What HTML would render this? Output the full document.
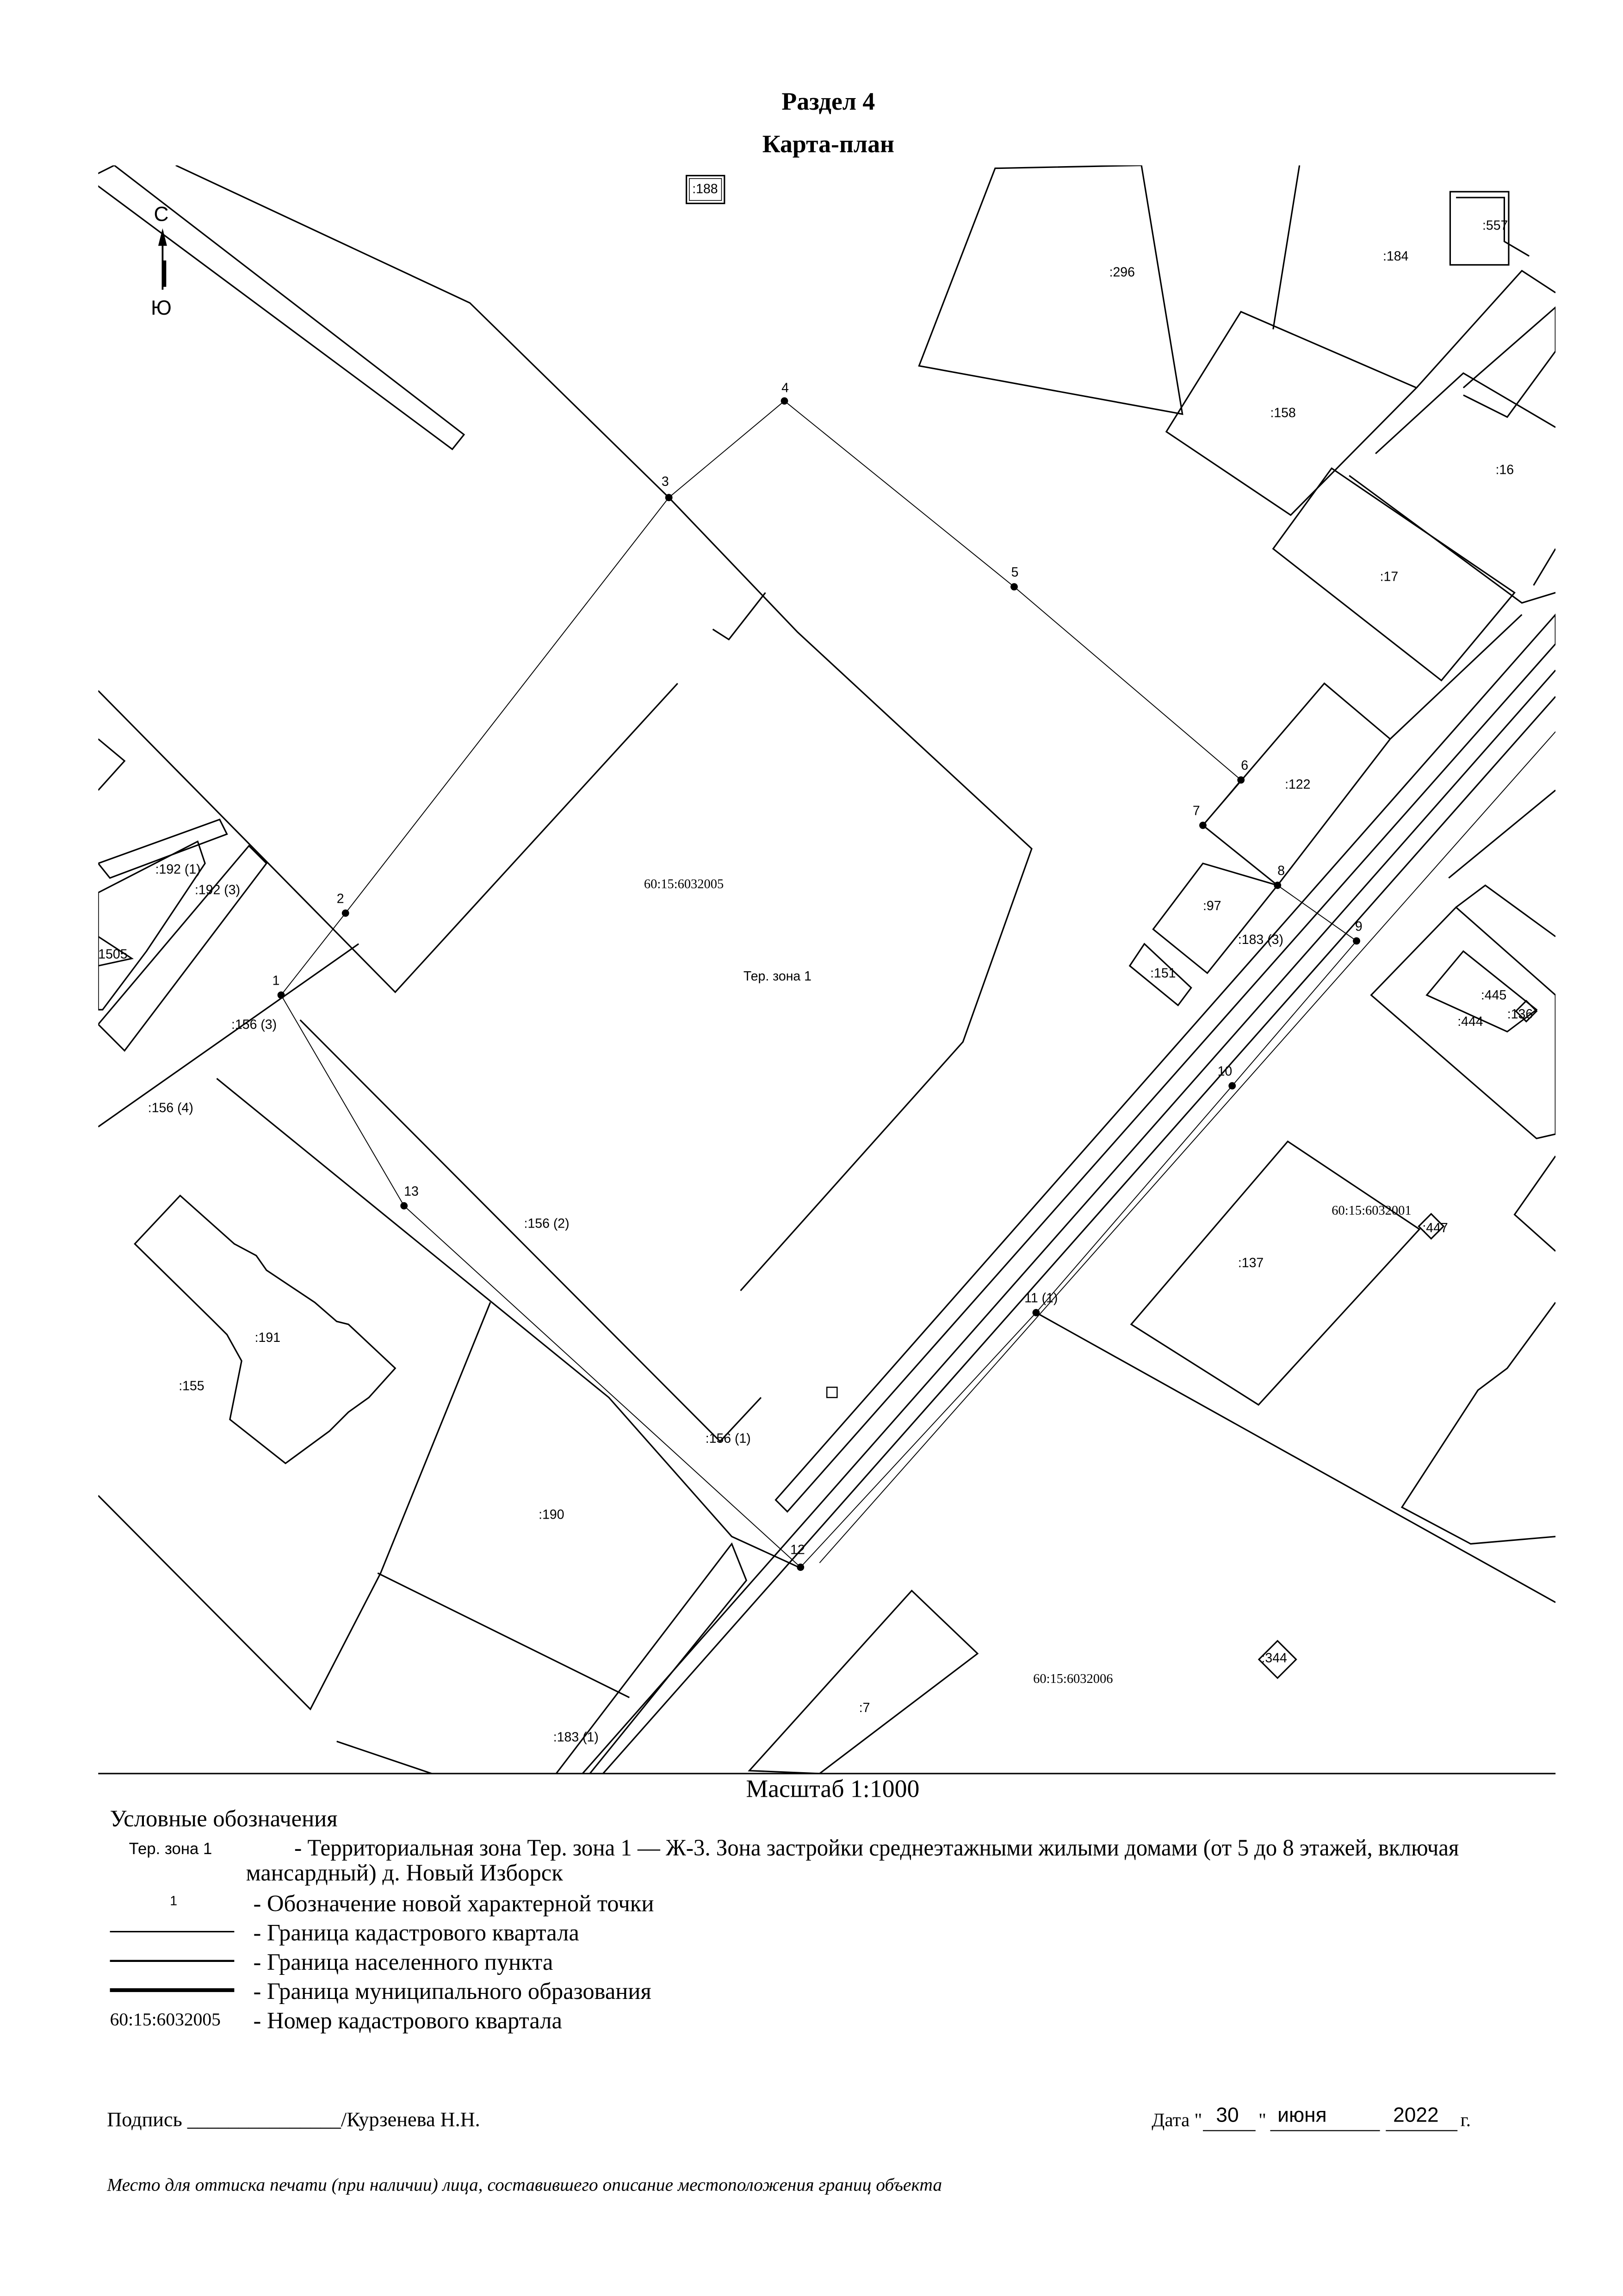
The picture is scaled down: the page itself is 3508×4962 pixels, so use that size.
<!DOCTYPE html>
<html><head><meta charset="utf-8">
<style>
html,body{margin:0;padding:0;background:#fff;}
svg{display:block;}
text{font-family:"Liberation Serif",serif;fill:#000;}
.s{font-family:"Liberation Sans",sans-serif;}
</style></head>
<body>
<svg width="3508" height="4962" viewBox="0 0 1109 1569" xmlns="http://www.w3.org/2000/svg">
<rect width="1109" height="1569" fill="#fff"/>
<text x="566" y="75" font-size="17" font-weight="bold" text-anchor="middle">Раздел 4</text>
<text x="566" y="104" font-size="17" font-weight="bold" text-anchor="middle">Карта-план</text>
<defs><clipPath id="c"><rect x="67" y="113" width="996" height="1099"/></clipPath></defs>
<g clip-path="url(#c)" fill="none" stroke="#000" stroke-width="1">
<polygon points="78,113 317,297 309,307 60,122"/>
<polyline points="120,113 321,207 457,340 545,432 705,580 658,712 506,882"/>
<polyline points="67,472 270,678 463,467"/>
<polyline points="487,430 498,437 523,405"/>
<line x1="67" y1="770" x2="245" y2="645"/>
<polyline points="205,697 492,985 520,955"/>
<polyline points="148,737 416,955 500,1050 548,1072"/>
<g stroke-width="0.6">
<polyline points="192,680 236,624 457,340 536,274 693,401 848,533 822,564 873,605 927,643 842,742 708,897 547,1071 276,824 192,680"/>
</g>
<polygon points="530,1025 1063,420 1063,440 538,1033"/>
<line x1="398" y1="1212" x2="1063" y2="458"/>
<line x1="412" y1="1212" x2="1063" y2="476"/>
<line x1="560" y1="1068" x2="1063" y2="500" stroke-width="0.6"/>
<polyline points="380,1212 500,1055 510,1080 403,1212"/>
<line x1="708" y1="897" x2="1063" y2="1095"/>
<polygon points="628,250 680,115 780,113 808,283"/>
<line x1="888" y1="113" x2="870" y2="225"/>
<polygon points="797,295 848,213 968,265 882,352"/>
<polygon points="870,375 910,320 1035,405 985,465"/>
<polyline points="940,310 1000,255 1063,292"/>
<polyline points="922,325 1040,412 1063,405"/>
<polyline points="968,265 1040,185 1063,200"/>
<polyline points="1000,265 1063,210 1063,240 1030,285 1000,270"/>
<polyline points="1048,400 1063,375"/>
<rect x="991" y="131" width="40" height="50"/>
<polyline points="995,135 1028,135 1028,165 1045,175"/>
<polygon points="822,564 905,467 950,505 873,605"/>
<polyline points="950,505 1040,420"/>
<polygon points="788,635 822,590 873,605 825,665"/>
<polygon points="772,660 782,645 814,675 805,687"/>
<polygon points="937,680 995,620 1063,680 1063,775 1050,778"/>
<polygon points="975,680 1000,650 1050,690 1030,705"/>
<polyline points="995,620 1015,605 1063,640"/>
<polyline points="990,600 1063,540"/>
<rect x="1038" y="686" width="10" height="10" transform="rotate(45 1043 691)"/>
<rect x="972" y="832" width="12" height="12" transform="rotate(45 978 838)"/>
<polyline points="1063,790 1035,830 1063,855"/>
<polygon points="773,905 880,780 970,840 860,960"/>
<polyline points="1063,890 1030,935 1010,950 958,1030 1005,1055 1063,1050"/>
<rect x="864" y="1125" width="18" height="18" transform="rotate(45 873 1134)"/>
<polygon points="512,1210 623,1087 668,1130 560,1212"/>
<polyline points="335,890 260,1075 212,1168 67,1022"/>
<line x1="258" y1="1075" x2="430" y2="1160"/>
<line x1="230" y1="1190" x2="295" y2="1212"/>
<polygon points="92,850 123,817 160,850 175,858 182,868 200,880 215,890 230,903 238,905 270,935 252,955 238,965 225,978 195,1000 157,970 165,930 155,912 145,902"/>
<polygon points="67,590 150,560 155,570 75,600"/>
<polygon points="67,700 170,578 182,590 85,718"/>
<polygon points="67,610 135,575 140,590 120,620 100,650 70,690 67,690"/>
<polyline points="67,505 85,520 67,540"/>
<polyline points="67,640 90,655 67,660"/>
<rect x="565" y="948" width="7" height="7" stroke-width="0.8"/>
<rect x="469" y="120" width="26" height="19"/>
<rect x="471" y="122" width="22" height="15" stroke-width="0.5"/>
</g>
<g fill="#000">
<circle cx="192" cy="680" r="2.5"/><circle cx="236" cy="624" r="2.5"/><circle cx="457" cy="340" r="2.5"/>
<circle cx="536" cy="274" r="2.5"/><circle cx="693" cy="401" r="2.5"/><circle cx="848" cy="533" r="2.5"/>
<circle cx="822" cy="564" r="2.5"/><circle cx="873" cy="605" r="2.5"/><circle cx="927" cy="643" r="2.5"/>
<circle cx="842" cy="742" r="2.5"/><circle cx="708" cy="897" r="2.5"/><circle cx="547" cy="1071" r="2.5"/>
<circle cx="276" cy="824" r="2.5"/>
</g>
<g class="s" font-size="9">
<text class="s" x="186" y="673">1</text><text class="s" x="230" y="617">2</text><text class="s" x="452" y="332">3</text>
<text class="s" x="534" y="268">4</text><text class="s" x="691" y="394">5</text><text class="s" x="848" y="526">6</text>
<text class="s" x="815" y="557">7</text><text class="s" x="873" y="598">8</text><text class="s" x="926" y="636">9</text>
<text class="s" x="832" y="735">10</text><text class="s" x="700" y="890">11 (1)</text><text class="s" x="540" y="1062">12</text>
<text class="s" x="276" y="817">13</text>
<text class="s" x="473" y="132">:188</text><text class="s" x="758" y="189">:296</text><text class="s" x="945" y="178">:184</text>
<text class="s" x="1013" y="157">:557</text><text class="s" x="868" y="285">:158</text><text class="s" x="1022" y="324">:16</text>
<text class="s" x="943" y="397">:17</text><text class="s" x="878" y="539">:122</text><text class="s" x="822" y="622">:97</text>
<text class="s" x="846" y="645">:183 (3)</text><text class="s" x="786" y="668">:151</text><text class="s" x="1012" y="683">:445</text>
<text class="s" x="996" y="701">:444</text><text class="s" x="1030" y="696">:136</text><text class="s" x="972" y="842">:447</text>
<text class="s" x="846" y="866">:137</text><text class="s" x="862" y="1136">:344</text><text class="s" x="587" y="1170">:7</text>
<text class="s" x="368" y="1038">:190</text><text class="s" x="378" y="1190">:183 (1)</text><text class="s" x="174" y="917">:191</text>
<text class="s" x="122" y="950">:155</text><text class="s" x="482" y="986">:156 (1)</text><text class="s" x="358" y="839">:156 (2)</text>
<text class="s" x="158" y="703">:156 (3)</text><text class="s" x="101" y="760">:156 (4)</text><text class="s" x="106" y="597">:192 (1)</text>
<text class="s" x="133" y="611">:192 (3)</text><text class="s" x="67" y="655">1505</text>
<text class="s" x="508" y="670">Тер. зона 1</text>
</g>
<text x="440" y="607" font-size="9">60:15:6032005</text>
<text x="910" y="830" font-size="9">60:15:6032001</text>
<text x="706" y="1150" font-size="9">60:15:6032006</text>
<text class="s" x="105" y="151" font-size="14">С</text>
<text class="s" x="103" y="215" font-size="14">Ю</text>
<line x1="111" y1="158" x2="111" y2="198" stroke="#000" stroke-width="1.2"/>
<line x1="112" y1="178" x2="112" y2="196" stroke="#000" stroke-width="3"/>
<polygon points="108,168 111,156 114,168" fill="#000"/>
<line x1="67" y1="1212" x2="1063" y2="1212" stroke="#000" stroke-width="1"/>
<text x="569" y="1228" font-size="17" text-anchor="middle">Масштаб 1:1000</text>
<text x="75" y="1248" font-size="16">Условные обозначения</text>
<text class="s" x="88" y="1267" font-size="11">Тер. зона 1</text>
<text x="201" y="1268" font-size="16" textLength="796" lengthAdjust="spacingAndGlyphs">- Территориальная зона Тер. зона 1 — Ж-3. Зона застройки среднеэтажными жилыми домами (от 5 до 8 этажей, включая</text>
<text x="168" y="1285" font-size="16">мансардный) д. Новый Изборск</text>
<text class="s" x="116" y="1302" font-size="9">1</text>
<text x="173" y="1306" font-size="16">- Обозначение новой характерной точки</text>
<line x1="75" y1="1320" x2="160" y2="1320" stroke="#000" stroke-width="1"/>
<text x="173" y="1326" font-size="16">- Граница кадастрового квартала</text>
<line x1="75" y1="1340" x2="160" y2="1340" stroke="#000" stroke-width="1.4"/>
<text x="173" y="1346" font-size="16">- Граница населенного пункта</text>
<line x1="75" y1="1360" x2="160" y2="1360" stroke="#000" stroke-width="2.6"/>
<text x="173" y="1366" font-size="16">- Граница муниципального образования</text>
<text x="75" y="1384" font-size="12.5">60:15:6032005</text>
<text x="173" y="1386" font-size="16">- Номер кадастрового квартала</text>
<text x="73" y="1453" font-size="14">Подпись _______________/Курзенева Н.Н.</text>
<text x="787" y="1453" font-size="13">Дата "</text>
<text class="s" x="831" y="1450" font-size="14">30</text>
<line x1="822" y1="1456" x2="858" y2="1456" stroke="#000" stroke-width="0.7"/>
<text x="860" y="1453" font-size="13">"</text>
<text class="s" x="873" y="1450" font-size="14">июня</text>
<line x1="868" y1="1456" x2="943" y2="1456" stroke="#000" stroke-width="0.7"/>
<text class="s" x="952" y="1450" font-size="14">2022</text>
<line x1="947" y1="1456" x2="996" y2="1456" stroke="#000" stroke-width="0.7"/>
<text x="998" y="1453" font-size="13">г.</text>
<text x="73" y="1497" font-size="12.5" font-style="italic">Место для оттиска печати (при наличии) лица, составившего описание местоположения границ объекта</text>
</svg>
</body></html>
